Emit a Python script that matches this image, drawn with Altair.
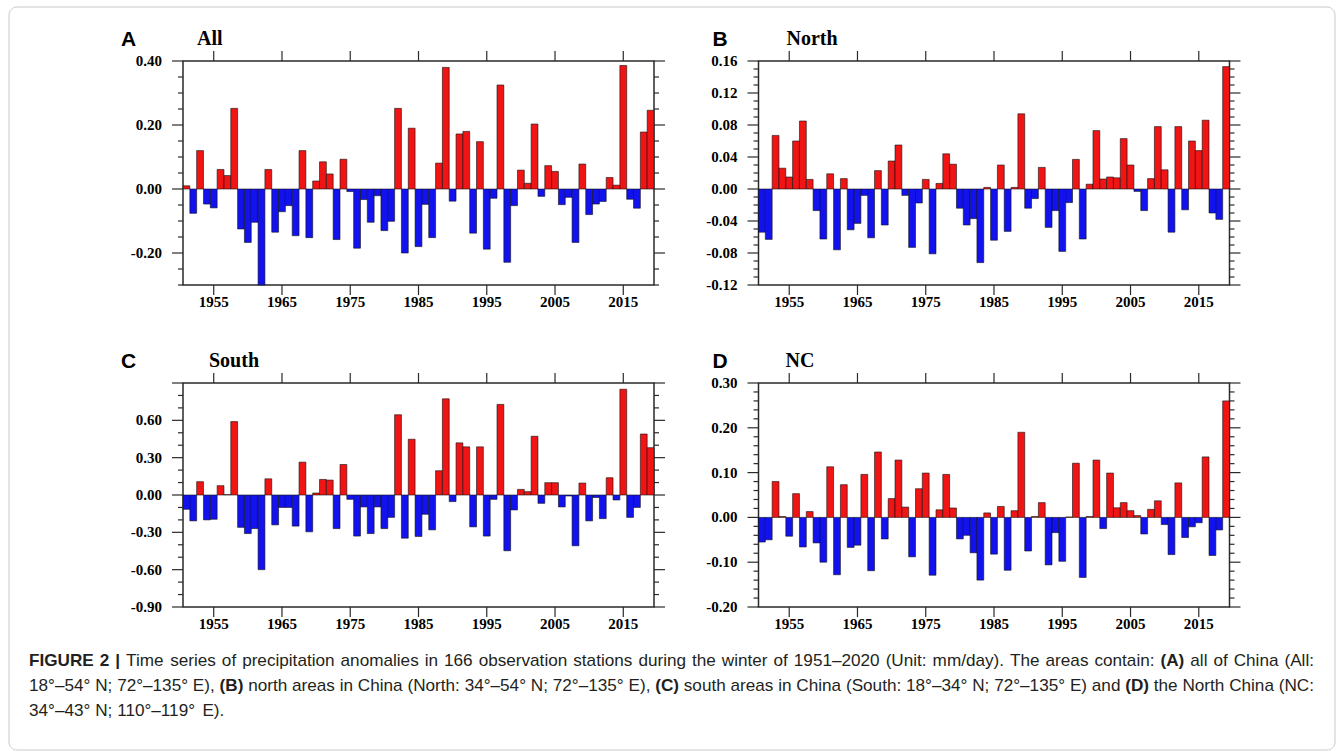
import altair as alt
import pandas as pd
import numpy as np

# ---------------- data ----------------
years = list(range(1951, 2020))

all_vals = [0.01, -0.076, 0.12, -0.047, -0.059, 0.061, 0.042, 0.252, -0.125, -0.167,
            -0.104, -0.30, 0.061, -0.135, -0.071, -0.052, -0.146, 0.12, -0.152, 0.025,
            0.085, 0.047, -0.158, 0.093, -0.008, -0.185, -0.033, -0.104, -0.021, -0.13,
            -0.101, 0.252, -0.2, 0.19, -0.18, -0.048, -0.152, 0.081, 0.38, -0.038,
            0.172, 0.18, -0.138, 0.148, -0.188, -0.029, 0.325, -0.229, -0.052, 0.059,
            0.018, 0.203, -0.023, 0.073, 0.055, -0.049, -0.026, -0.167, 0.078, -0.08,
            -0.047, -0.039, 0.036, 0.012, 0.386, -0.032, -0.06, 0.178, 0.246]

north_vals = [-0.054, -0.063, 0.067, 0.026, 0.015, 0.060, 0.085, 0.012, -0.027, -0.0625,
              0.019, -0.076, 0.013, -0.051, -0.043, -0.008, -0.061, 0.023, -0.045, 0.035,
              0.055, -0.008, -0.073, -0.0175, 0.012, -0.081, 0.007, 0.044, 0.031, -0.024,
              -0.045, -0.037, -0.092, 0.002, -0.064, 0.03, -0.053, 0.002, 0.094, -0.024,
              -0.012, 0.027, -0.048, -0.027, -0.078, -0.017, 0.037, -0.0625, 0.006, 0.073,
              0.0125, 0.015, 0.014, 0.063, 0.030, -0.003, -0.027, 0.013, 0.078, 0.024,
              -0.054, 0.078, -0.026, 0.06, 0.048, 0.086, -0.03, -0.038, 0.153]

south_vals = [-0.115, -0.208, 0.107, -0.2, -0.195, 0.075, 0.003, 0.59, -0.26, -0.31,
              -0.27, -0.6, 0.13, -0.24, -0.10, -0.10, -0.25, 0.264, -0.296, 0.016,
              0.125, 0.12, -0.27, 0.245, -0.035, -0.33, -0.096, -0.31, -0.096, -0.27,
              -0.18, 0.645, -0.347, 0.448, -0.333, -0.155, -0.28, 0.195, 0.773, -0.053,
              0.419, 0.387, -0.256, 0.387, -0.33, -0.035, 0.728, -0.448, -0.12, 0.045,
              0.027, 0.472, -0.067, 0.099, 0.099, -0.096, -0.008, -0.408, 0.096, -0.208,
              -0.02, -0.19, 0.139, -0.04, 0.85, -0.18, -0.10, 0.49, 0.38]

nc_vals = [-0.055, -0.05, 0.08, 0.002, -0.042, 0.053, -0.066, 0.013, -0.057, -0.10,
           0.113, -0.128, 0.073, -0.067, -0.062, 0.096, -0.119, 0.146, -0.048, 0.042,
           0.128, 0.023, -0.088, 0.064, 0.099, -0.129, 0.017, 0.096, 0.021, -0.048,
           -0.04, -0.079, -0.14, 0.01, -0.082, 0.0245, -0.118, 0.015, 0.19, -0.075,
           0.002, 0.033, -0.106, -0.034, -0.098, 0.001, 0.121, -0.134, 0.002, 0.128,
           -0.025, 0.099, 0.0215, 0.033, 0.015, 0.004, -0.037, 0.018, 0.037, -0.016,
           -0.083, 0.077, -0.045, -0.021, -0.012, 0.135, -0.085, -0.028, 0.26]

x_tick_years = [1955, 1965, 1975, 1985, 1995, 2005, 2015]
x_tick_labels = ["1955", "1965", "1975", "1985", "1995", "2005", "2015"]

a_majors = [-0.2, 0.0, 0.2, 0.4]
a_labels = ["-0.20", "0.00", "0.20", "0.40"]
a_label_vals = [-0.2, 0.0, 0.2, 0.4]
b_majors = [-0.12, -0.08, -0.04, 0.0, 0.04, 0.08, 0.12, 0.16]
b_labels = ["-0.12", "-0.08", "-0.04", "0.00", "0.04", "0.08", "0.12", "0.16"]
b_label_vals = b_majors
c_majors = [-0.9, -0.6, -0.3, 0.0, 0.3, 0.6, 0.9]
c_labels = ["-0.90", "-0.60", "-0.30", "0.00", "0.30", "0.60"]
c_label_vals = [-0.9, -0.6, -0.3, 0.0, 0.3, 0.6]
d_majors = [-0.2, -0.1, 0.0, 0.1, 0.2, 0.3]
d_labels = ["-0.20", "-0.10", "0.00", "0.10", "0.20", "0.30"]
d_label_vals = d_majors

caption_lines = [
    [("FIGURE 2 |", True),
     ("Time series of precipitation anomalies in 166 observation stations during the winter of 1951\u20132020 (Unit: mm/day). The areas contain:", False),
     ("(A)", True), ("all of China (All:", False)],
    [("18\u00b0\u201354\u00b0 N; 72\u00b0\u2013135\u00b0 E),", False), ("(B)", True),
     ("north areas in China (North: 34\u00b0\u201354\u00b0 N; 72\u00b0\u2013135\u00b0 E),", False), ("(C)", True),
     ("south areas in China (South: 18\u00b0\u201334\u00b0 N; 72\u00b0\u2013135\u00b0 E) and", False), ("(D)", True),
     ("the North China (NC:", False)],
    [("34\u00b0\u201343\u00b0 N; 110\u00b0\u2013119\u00b0 E).", False)],
]

# ---------------- style ----------------
RED = "#f01414"
BLUE = "#1212ee"
FRAME = "#2a2a2a"
SERIF = "Liberation Serif"
SANS = "Liberation Sans"
W = 471
H = 224
PLOT_LEFT = 182
PLOT_TOP = 60
COL_GAP = 104.5
ROW_GAP = 98


def minor_ticks(lo, hi, step, majors):
    vals = np.round(np.arange(lo, hi + step / 2, step), 4)
    return [float(v) for v in vals if all(abs(v - m) > 1e-6 for m in majors)]


def panel(vals, letter, letter_dx, title, title_dx, ydom, majors, label_vals, labels, minor_step):
    df = pd.DataFrame({"year": years, "v": vals})
    xs = alt.Scale(domain=[1950.5, 2019.5], nice=False, zero=False)
    ys = alt.Scale(domain=ydom, nice=False, zero=False)

    bars = alt.Chart(df).transform_calculate(
        x0="datum.year - 0.5", x1="datum.year + 0.5", z="0"
    ).mark_bar(stroke="#111111", strokeWidth=0.6).encode(
        x=alt.X("x0:Q", scale=xs, axis=None),
        x2="x1:Q",
        y=alt.Y("v:Q", scale=ys, axis=None),
        y2="z:Q",
        color=alt.condition("datum.v > 0", alt.value(RED), alt.value(BLUE)),
    )

    maj_df = pd.DataFrame({"t": majors})
    min_df = pd.DataFrame({"t": minor_ticks(ydom[0], ydom[1], minor_step, majors)})
    yr_df = pd.DataFrame({"t": x_tick_years, "s": x_tick_labels})
    ylab_df = pd.DataFrame({"t": label_vals, "s": labels})

    def yrule(d, x1, x2):
        return alt.Chart(d).mark_rule(color=FRAME, strokeWidth=1.2).encode(
            y=alt.Y("t:Q", scale=ys, axis=None), x=alt.value(x1), x2=alt.value(x2))

    def xrule(y1, y2):
        return alt.Chart(yr_df).mark_rule(color=FRAME, strokeWidth=1.2).encode(
            x=alt.X("t:Q", scale=xs, axis=None), y=alt.value(y1), y2=alt.value(y2))

    ylabels = alt.Chart(ylab_df).mark_text(
        font=SERIF, fontWeight="bold", fontSize=15, align="right", baseline="middle",
        color="black").encode(
        y=alt.Y("t:Q", scale=ys, axis=None), x=alt.value(-21), text="s:N")
    xlabels = alt.Chart(yr_df).mark_text(
        font=SERIF, fontWeight="bold", fontSize=15, align="center", baseline="top",
        color="black").encode(
        x=alt.X("t:Q", scale=xs, axis=None), y=alt.value(H + 10), text="s:N")

    layers = [
        bars,
        yrule(maj_df, -11, 0), yrule(min_df, -5, 0),
        yrule(maj_df, W, W + 11), yrule(min_df, W, W + 5),
        xrule(-10, 0), xrule(H, H + 10),
        ylabels, xlabels,
        alt.Chart(pd.DataFrame({"s": [letter]})).mark_text(
            font=SANS, fontWeight="bold", fontSize=21, align="left", baseline="alphabetic",
            color="black").encode(x=alt.value(letter_dx), y=alt.value(-15), text="s:N"),
        alt.Chart(pd.DataFrame({"s": [title]})).mark_text(
            font=SERIF, fontWeight="bold", fontSize=20, align="left", baseline="alphabetic",
            color="black").encode(x=alt.value(title_dx), y=alt.value(-16), text="s:N"),
    ]
    return alt.layer(*layers).properties(width=W, height=H)


pA = panel(all_vals, "A", -62, "All", 14, [-0.30, 0.40], a_majors, a_label_vals, a_labels, 0.05)
pB = panel(north_vals, "B", -46, "North", 28, [-0.12, 0.16], b_majors, b_label_vals, b_labels, 0.01)
pC = panel(south_vals, "C", -62, "South", 26, [-0.90, 0.90], c_majors, c_label_vals, c_labels, 0.1)
pD = panel(nc_vals, "D", -46, "NC", 27, [-0.20, 0.30], d_majors, d_label_vals, d_labels, 0.02)

# ---------------- caption ----------------
REG = {' ': 278, '(': 333, ')': 333, ',': 278, '-': 333, '.': 278, '/': 278, ':': 278, ';': 278,
       '|': 260, '\u00b0': 400, '\u2013': 556,
       'A': 667, 'B': 667, 'C': 722, 'D': 722, 'E': 667, 'F': 611, 'G': 778, 'H': 722, 'I': 278,
       'J': 500, 'K': 667, 'L': 556, 'M': 833, 'N': 722, 'O': 778, 'P': 667, 'Q': 778, 'R': 722,
       'S': 667, 'T': 611, 'U': 722, 'V': 667, 'W': 944, 'X': 667, 'Y': 667, 'Z': 611,
       'a': 556, 'b': 556, 'c': 500, 'd': 556, 'e': 556, 'f': 278, 'g': 556, 'h': 556, 'i': 222,
       'j': 222, 'k': 500, 'l': 222, 'm': 833, 'n': 556, 'o': 556, 'p': 556, 'q': 556, 'r': 333,
       's': 500, 't': 278, 'u': 556, 'v': 500, 'w': 722, 'x': 500, 'y': 500, 'z': 500}
BOLD = {' ': 278, '(': 333, ')': 333, '|': 280, 'A': 722, 'B': 722, 'C': 722, 'D': 722,
        'E': 667, 'F': 611, 'G': 778, 'I': 278, 'R': 722, 'U': 722}


def text_w(s, bold):
    tbl = BOLD if bold else REG
    return sum(tbl.get(c, 556) for c in s) / 1000.0


CAP_LEFT = 28
CAP_RIGHT = 1313
CAP_ORIGIN_Y = PLOT_TOP + H + ROW_GAP + H + ROW_GAP
line_y = [660, 685, 710]

# split caption into words (keeping bold flags)
line_words = []
for segs in caption_lines:
    words = []
    for s, b in segs:
        for wd in s.split(" "):
            if wd:
                words.append((wd, b))
    line_words.append(words)

SPACE = REG[' '] / 1000.0


def natural_em(words):
    return sum(text_w(w, b) for w, b in words) + SPACE * (len(words) - 1)


cap_fs = (CAP_RIGHT - CAP_LEFT) / max(natural_em(line_words[0]), natural_em(line_words[1]))

cap_layers = []
cap_df = pd.DataFrame({"k": [0]})
cap_layers.append(
    alt.Chart(cap_df).mark_rect(filled=False, stroke="#c9c9c9", strokeWidth=1, cornerRadius=8).encode(
        x=alt.value(8 - PLOT_LEFT), x2=alt.value(1334 - PLOT_LEFT),
        y=alt.value(6 - CAP_ORIGIN_Y), y2=alt.value(749 - CAP_ORIGIN_Y)))

for li, words in enumerate(line_words):
    justify = li < len(line_words) - 1
    nat = natural_em(words) * cap_fs
    gap = SPACE * cap_fs
    if justify and len(words) > 1:
        gap += (CAP_RIGHT - CAP_LEFT - nat) / (len(words) - 1)
    cx = CAP_LEFT
    for wd, b in words:
        cap_layers.append(
            alt.Chart(pd.DataFrame({"s": [wd]})).mark_text(
                font=SANS, fontSize=cap_fs, fontWeight="bold" if b else "normal",
                align="left", baseline="middle", color="#231f20").encode(
                x=alt.value(cx - PLOT_LEFT), y=alt.value(line_y[li] - CAP_ORIGIN_Y), text="s:N"))
        cx += text_w(wd, b) * cap_fs + gap

caption = alt.layer(*cap_layers).properties(
    width=W, height=30, view=alt.ViewBackground(strokeOpacity=0))

chart = alt.concat(
    pA, pB, pC, pD, caption, columns=2,
    spacing=alt.RowColnumber(row=ROW_GAP, column=COL_GAP), bounds="flush",
).properties(
    padding={"left": 8, "top": 6, "right": 0, "bottom": 0},
    background="white",
).configure_view(stroke=FRAME, strokeWidth=1.5)

chart.save("out.html", embed_options={"renderer": "svg", "actions": False})
